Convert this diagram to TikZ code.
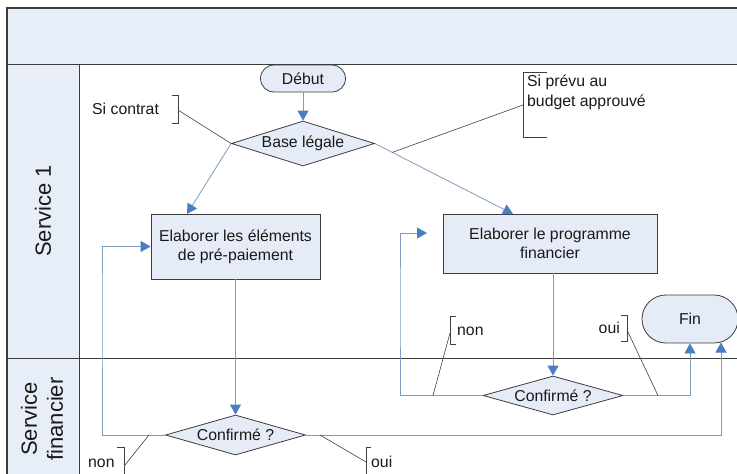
\documentclass[tikz,border=0pt]{standalone}
\usepackage{fontspec}
\setmainfont{Liberation Sans}
\usetikzlibrary{shapes.geometric,arrows.meta,calc}
\definecolor{lanefill}{RGB}{232,238,248}
\definecolor{boxfill}{RGB}{230,236,247}
\definecolor{linkcol}{RGB}{128,155,192}
\definecolor{tipcol}{RGB}{74,126,193}
\definecolor{framecol}{RGB}{60,60,60}
\begin{document}
\begin{tikzpicture}[x=1pt,y=-1pt,
  every node/.style={font=\fontsize{15.8}{19}\selectfont, inner sep=0pt, text=black!90},
  procbox/.style={draw=framecol, fill=boxfill, line width=0.8pt, align=center},
  term/.style={draw=framecol, fill=boxfill, line width=0.8pt},
  decision/.style={diamond, draw=framecol, fill=boxfill, line width=0.8pt, aspect=3.2, inner sep=0pt},
  flow/.style={draw=linkcol, line width=0.8pt, -{Triangle[length=10pt,width=11pt,color=tipcol]}},
  note/.style={draw=black!75, line width=0.6pt},
  lanelabel/.style={rotate=90, align=center, font=\fontsize{22}{26}\selectfont}
]
\useasboundingbox (0,0) rectangle (737,474);
% pool and lanes
\fill[lanefill] (7,8) rectangle (737,64);
\fill[lanefill] (7,64) rectangle (79,474);
\draw[framecol, line width=1.5pt] (7,474) -- (7,8) -- (737,8);
\draw[framecol, line width=0.8pt] (7,64) -- (737,64);
\draw[framecol, line width=0.8pt] (7,358) -- (737,358);
\draw[framecol, line width=0.8pt] (79,64) -- (79,474);
\node[lanelabel] (lane1) at (43,211) {Service 1};
\node[lanelabel] (lane2) at (42,419) {Service\\financier};
% nodes
\node[term, minimum width=85pt, minimum height=27pt, rounded corners=13.5pt] (debut) at (303,78.5) {Début};
\node[decision, minimum width=143pt, minimum height=45pt] (base) at (303,143.5) {Base légale};
\node[procbox, minimum width=169pt, minimum height=65pt] (box1) at (235.5,246.5) {Elaborer les éléments\\de pré-paiement};
\node[procbox, minimum width=214pt, minimum height=59pt] (box2) at (550,243.5) {Elaborer le programme\\financier};
\node[decision, minimum width=140pt, minimum height=40pt] (conf1) at (235.5,435) {Confirmé ?};
\node[decision, minimum width=140pt, minimum height=39pt] (conf2) at (553,395.5) {Confirmé ?};
\node[term, minimum width=96pt, minimum height=48pt, rounded corners=23.9pt] (fin) at (690,319) {Fin};
% helper coordinates
\coordinate (b1in) at (187,214);
\coordinate (b2in) at (513,214);
\coordinate (l1) at (102,300);
\coordinate (l2) at (400,300);
\coordinate (b2loop) at (427,233);
\coordinate (fin2) at (721,342.5);
% connectors
\draw[flow] (debut.south) -- (base.north);
\draw[flow] (base.west) -- (b1in);
\draw[flow] (base.east) -- (b2in);
\draw[flow] (box1.south) -- (conf1.north);
\draw[flow] (box2.south -| conf2.north) -- (conf2.north);
\draw[flow] (conf1.west) -| (l1) |- (box1.west);
\draw[flow] (conf2.west) -| (l2) |- (b2loop);
\draw[flow] (conf2.east) -| (fin.south);
\draw[flow] (conf1.east) -| (fin2);
% annotations
\node[anchor=base west] (sicontrat) at (92,114) {Si contrat};
\draw[note] (172,95) -- (178,95) -- (178,123) -- (172,123);
\coordinate (bk1) at (178,110);
\draw[note] (bk1) -- (base.west);

\node[anchor=north west, align=left, font=\fontsize{15.8}{20}\selectfont] (siprevu) at (527,75) {Si prévu au\\budget approuvé};
\draw[note] (547,72) -- (523,72) -- (523,137) -- (547,137);
\coordinate (bk2) at (523,105);
\coordinate (mid3) at ($(base.east)!0.126!(b2in)$);
\draw[note] (bk2) -- (mid3);

\node[anchor=base west] (non1) at (88,467) {non};
\draw[note] (117,447) -- (124,447) -- (124,476);
\coordinate (bk3) at (125,465);
\coordinate (m3) at (149,435);
\draw[note] (bk3) -- (m3);

\node[anchor=base west] (oui1) at (371,467) {oui};
\draw[note] (371,447) -- (366,447) -- (366,476);
\coordinate (bk4) at (366,462);
\coordinate (m4) at (320,435);
\draw[note] (bk4) -- (m4);

\node[anchor=base west] (non2) at (457,335) {non};
\draw[note] (456,316) -- (450,316) -- (450,344) -- (456,344);
\coordinate (bk5) at (450,333);
\coordinate (m5) at (433,395.5);
\draw[note] (bk5) -- (m5);

\node[anchor=base east] (oui2) at (620,333) {oui};
\draw[note] (621,315) -- (627,315) -- (627,341) -- (621,341);
\coordinate (bk6) at (627,330);
\coordinate (m6) at (658,395.5);
\draw[note] (bk6) -- (m6);
\end{tikzpicture}
\end{document}
